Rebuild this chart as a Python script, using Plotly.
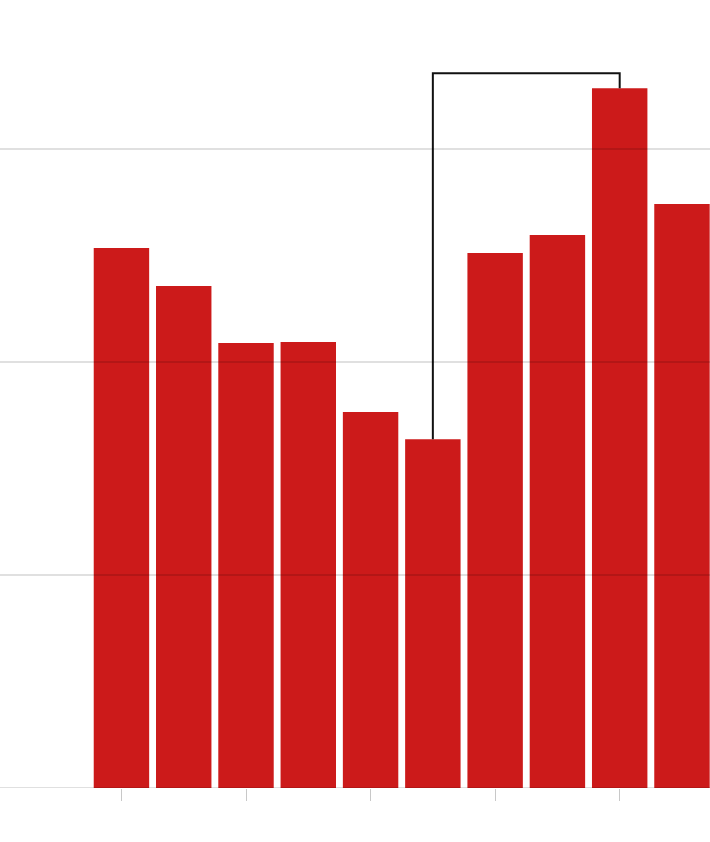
import plotly.graph_objects as go

years = [2012, 2013, 2014, 2015, 2016, 2017, 2018, 2019, 2020, 2021]
values = [25.35, 23.57, 20.89, 20.94, 17.65, 16.38, 25.12, 25.96, 32.86, 27.42]
grid_values = [0, 10, 20, 30]
tick_years = [2012, 2014, 2016, 2018, 2020]

bar_color = "#cc1a1a"

fig = go.Figure()
fig.add_trace(go.Bar(
    x=years, y=values,
    marker=dict(color=bar_color, line=dict(width=0)),
    width=0.89,
    hoverinfo="skip",
))

# bracket connecting minimum and maximum bars
i_min = values.index(min(values))
i_max = values.index(max(values))
top = max(values) + 0.7
fig.add_trace(go.Scatter(
    x=[years[i_min], years[i_min], years[i_max], years[i_max]],
    y=[values[i_min], top, top, values[i_max]],
    mode="lines",
    line=dict(color="#111111", width=2),
    hoverinfo="skip",
))

shapes = []
for g in grid_values:
    shapes.append(dict(
        type="line", xref="paper", yref="y", x0=0, x1=1, y0=g, y1=g,
        line=dict(color="rgba(0,0,0,0.12)", width=2), layer="above",
    ))

fig.update_layout(
    width=710, height=842,
    margin=dict(l=0, r=0, t=0, b=54),
    paper_bgcolor="white", plot_bgcolor="white",
    showlegend=False,
    shapes=shapes,
    xaxis=dict(
        range=[2010.05, 2021.45],
        tickvals=tick_years,
        ticks="outside", ticklen=12, tickcolor="#c8c8c8", tickwidth=1,
        showticklabels=False, showgrid=False, zeroline=False, showline=False,
    ),
    yaxis=dict(
        range=[0, 37.0],
        showticklabels=False, showgrid=False, zeroline=False, showline=False,
    ),
)

fig.write_html(
    "out.html",
    config={"displayModeBar": False},
    post_script="document.body.style.margin='0';",
)
